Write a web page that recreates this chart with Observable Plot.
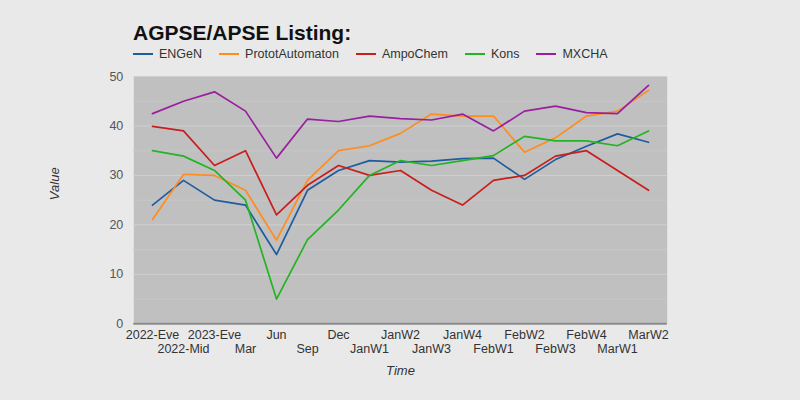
<!DOCTYPE html>
<html><head><meta charset="utf-8">
<script src="https://cdn.jsdelivr.net/npm/d3@7"></script>
<script src="https://cdn.jsdelivr.net/npm/@observablehq/plot@0.6"></script>
<style>
html,body{margin:0;padding:0;background:#e9e9e9;font-family:"Liberation Sans",Arial,sans-serif;}
#wrap{width:800px;height:400px;position:relative;overflow:hidden;}
#head{position:relative;height:64px;}
#title{position:absolute;left:133px;top:22px;font-size:21px;line-height:21px;font-weight:bold;color:#111;white-space:nowrap;}
#legend{position:absolute;left:133px;top:47px;display:flex;gap:17px;font-size:12.5px;line-height:14px;color:#333;white-space:nowrap;}
.item{display:flex;align-items:center;height:14px;}
.sw{width:20px;height:2px;margin-right:6px;}
#chart svg{display:block;}
</style></head><body>
<div id="wrap"><div id="head"><div id="title">AGPSE/APSE Listing:</div><div id="legend"></div></div><div id="chart"></div></div>
<script>
const cats = ["2022-Eve","2022-Mid","2023-Eve","Mar","Jun","Sep","Dec","JanW1","JanW2","JanW3","JanW4","FebW1","FebW2","FebW3","FebW4","MarW1","MarW2"];
const series = ["ENGeN","PrototAutomaton","AmpoChem","Kons","MXCHA"];
const colors = ["#1f5c9e","#ff8c1e","#c81e1e","#22b422","#9a1fa0"];
const engen = [24,29,25,24,14,27,31,33,32.7,32.9,33.4,33.5,29.2,33.2,35.9,38.4,36.7];
const proto = [21.1,30.2,30,27,16.9,29,35,36,38.5,42.4,42,42,34.7,37.6,42,43,47.2];
const ampo  = [39.9,39,32,35,22,28,32,30,31,27,24,29,30,33.9,35,31,27];
const kons  = [35,33.9,31,25,5,17,23,30,33,32,33,34,37.9,37,37,36,39];
const mxcha = [42.5,45,46.9,43,33.5,41.4,40.9,42,41.5,41.2,42.4,39,43,44,42.7,42.5,48.2];
const yTicks = [0,10,20,30,40,50];
const minorTicks = [5,15,25,35,45];
const majorTicks = [10,20,30,40,50];

const values = [engen, proto, ampo, kons, mxcha];
const data = [];
series.forEach((s,i)=>cats.forEach((c,j)=>data.push({cat:c, value:values[i][j], series:s})));

const legend = document.getElementById("legend");
series.forEach((s,i)=>{
  const it = document.createElement("div"); it.className="item";
  const sw = document.createElement("div"); sw.className="sw"; sw.style.background=colors[i];
  const tx = document.createElement("span"); tx.textContent=s;
  it.appendChild(sw); it.appendChild(tx); legend.appendChild(it);
});

const plot = Plot.plot({
  width: 800, height: 336,
  marginTop: 12, marginBottom: 76.7, marginLeft: 133.3, marginRight: 133.3,
  style: {fontFamily:"'Liberation Sans', Arial, sans-serif", fontSize:"12.5px", background:"transparent", overflow:"visible"},
  x: {type:"point", domain:cats, padding:0.545, axis:null},
  y: {domain:[0,50], axis:null},
  color: {domain:series, range:colors},
  marks: [
    Plot.frame({fill:"#c0c0c0", stroke:null}),
    Plot.gridY(minorTicks, {stroke:"#c7c7c7", strokeOpacity:1}),
    Plot.gridY(majorTicks, {stroke:"#d0d0d0", strokeOpacity:1}),
    Plot.ruleY([0], {stroke:"#8a8a8a", strokeWidth:2}),
    Plot.axisY(yTicks, {tickSize:0, tickPadding:10.5, fill:"#555", fontSize:12.5, label:null}),
    Plot.axisX(cats.filter((d,i)=>i%2===0), {tickSize:0, tickPadding:6, fill:"#333", fontSize:12.5, label:null}),
    Plot.axisX(cats.filter((d,i)=>i%2===1), {tickSize:0, tickPadding:20, fill:"#333", fontSize:12.5, label:null}),
    Plot.lineY(data, {x:"cat", y:"value", stroke:"series", strokeWidth:1.7}),
    Plot.text(["Value"], {frameAnchor:"left", dx:-79, rotate:-90, fontStyle:"italic", fontSize:13, fill:"#333"}),
    Plot.text(["Time"], {frameAnchor:"bottom", dy:51, fontStyle:"italic", fontSize:13, fill:"#333"})
  ]
});
document.getElementById("chart").appendChild(plot);
</script>
</body></html>
